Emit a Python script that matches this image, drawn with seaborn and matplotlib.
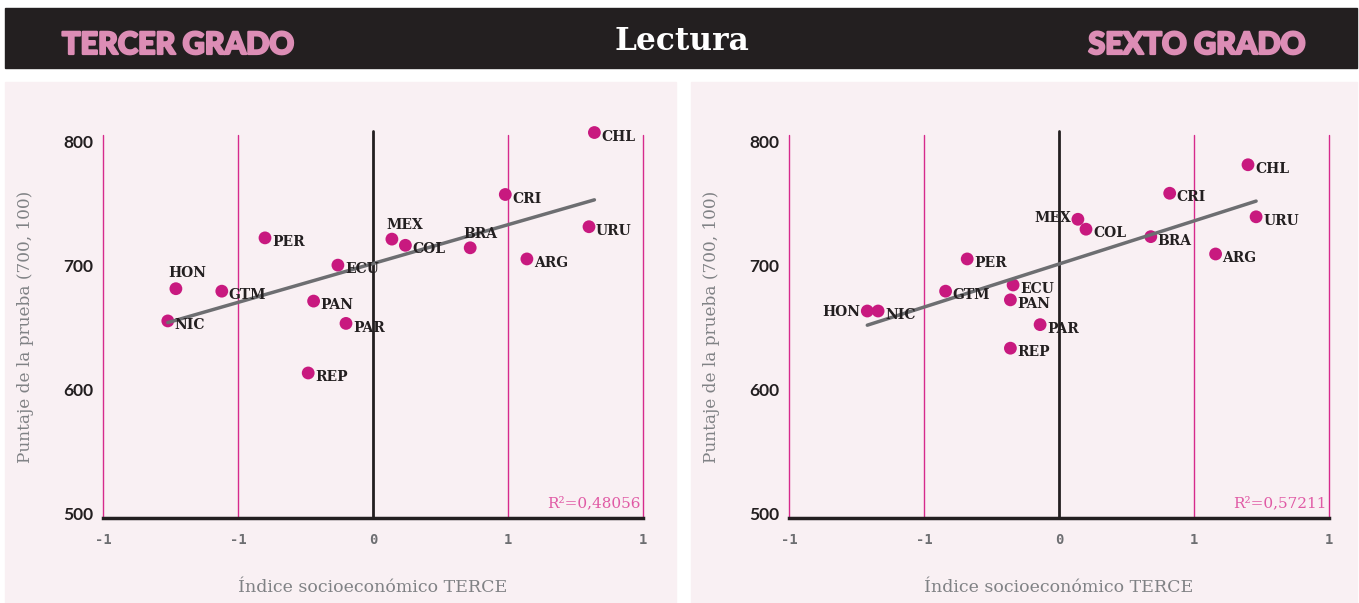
import pandas as pd
import numpy as np
import matplotlib
matplotlib.use("Agg")
import matplotlib.pyplot as plt
from matplotlib.patches import Rectangle
import matplotlib.patheffects as pe
import seaborn as sns

# data
countries = ["CHL", "CRI", "URU", "MEX", "COL", "BRA", "ARG", "PER",
             "ECU", "HON", "GTM", "PAN", "NIC", "PAR", "REP"]
tercer_ise = [0.82, 0.49, 0.80, 0.07, 0.12, 0.36, 0.57, -0.40,
              -0.13, -0.73, -0.56, -0.22, -0.76, -0.10, -0.24]
tercer_score = [807, 757, 731, 721, 716, 714, 705, 722,
                700, 681, 679, 671, 655, 653, 613]
sexto_ise = [0.70, 0.41, 0.73, 0.07, 0.10, 0.34, 0.58, -0.34,
             -0.17, -0.71, -0.42, -0.18, -0.67, -0.07, -0.18]
sexto_score = [781, 758, 739, 737, 729, 723, 709, 705,
               684, 663, 679, 672, 663, 652, 633]
x_ticks = [-1, -0.5, 0, 0.5, 1]
x_tick_labels = ["-1", "-1", "0", "1", "1"]
y_ticks = [500, 600, 700, 800]
r2_tercer = "0,48056"
r2_sexto = "0,57211"

DARK = "#231f20"
PINK = "#dc8db5"
DOT = "#c8197f"
VLINE = "#d62a8c"
GRAY = "#6d6e71"
PANEL = "#f9f0f3"

# label placement: (dx, dy) in points, ha
default_off = ((5, -3), "left")
off_tercer = {"HON": ((8, 11), "center"), "MEX": ((9, 10), "center"),
              "BRA": ((7, 10), "center")}
off_sexto = {"HON": ((-5, -1), "right"), "MEX": ((-5, 1), "right")}

sns.set_theme(style="white")
plt.rcParams["font.family"] = ["DejaVu Sans"]

fig = plt.figure(figsize=(13.59, 6.03), dpi=100)
W, H = 1359, 603

def px_rect(x0, y0, x1, y1, color):
    fig.patches.append(Rectangle((x0 / W, 1 - y1 / H), (x1 - x0) / W, (y1 - y0) / H,
                                 transform=fig.transFigure, color=color, zorder=-5))

px_rect(5, 8, 1357, 68, DARK)
px_rect(5, 82, 676, 603, PANEL)
px_rect(691, 82, 1357, 603, PANEL)

heavy = [pe.withStroke(linewidth=1.6, foreground=PINK)]
fig.text(62 / W, 1 - 45 / H, "TERCER GRADO", color=PINK, fontsize=22,
         family="Lato", fontweight="black", ha="left", va="center",
         path_effects=heavy)
fig.text(1305 / W, 1 - 45 / H, "SEXTO GRADO", color=PINK, fontsize=22,
         family="Lato", fontweight="black", ha="right", va="center",
         path_effects=heavy)
fig.text(682 / W, 1 - 42 / H, "Lectura", color="white", fontsize=22.5,
         family="DejaVu Serif", fontweight="bold", ha="center", va="center")


def draw_panel(left_px, ise, score, offsets, r2):
    ax = fig.add_axes([left_px / W, (603 - 518) / H, 540 / W, 383 / H])
    ax.set_facecolor("none")
    df = pd.DataFrame({"pais": countries, "ise": ise, "score": score})
    ax.set_xlim(-1, 1)
    ax.set_ylim(496, 805)
    for xv in [-1, -0.5, 0.5, 1]:
        ax.axvline(xv, color=VLINE, lw=1, zorder=1, clip_on=False)
    ax.axvline(0, color=DARK, lw=2, ymax=1.01, zorder=1, clip_on=False)
    sns.scatterplot(data=df, x="ise", y="score", ax=ax, color=DOT, s=85,
                    edgecolor="none", zorder=3, clip_on=False, legend=False)
    sns.regplot(data=df, x="ise", y="score", ax=ax, scatter=False, ci=None,
                color=GRAY, line_kws={"lw": 2.5, "zorder": 4})
    for _, row in df.iterrows():
        (dx, dy), ha = offsets.get(row["pais"], default_off)
        ax.annotate(row["pais"], (row["ise"], row["score"]), xytext=(dx, dy),
                    textcoords="offset points", ha=ha, va="center",
                    fontsize=10, family="DejaVu Serif", fontweight="bold",
                    color=DARK, zorder=5, annotation_clip=False)
    for s in ["top", "right", "left"]:
        ax.spines[s].set_visible(False)
    ax.spines["bottom"].set_color(DARK)
    ax.spines["bottom"].set_linewidth(2.5)
    ax.set_xticks(x_ticks)
    ax.set_xticklabels(x_tick_labels, family="DejaVu Sans Mono",
                       fontweight="bold", fontsize=10, color=GRAY)
    ax.set_yticks(y_ticks)
    ax.set_yticklabels([str(v) for v in y_ticks], family="Lato",
                       fontweight="bold", fontsize=12.5, color=DARK)
    ax.tick_params(axis="x", length=0, pad=11)
    ax.tick_params(axis="y", length=0, pad=7)
    ax.grid(False)
    ax.set_xlabel("Índice socioeconómico TERCE", family="DejaVu Serif",
                  fontsize=12.5, color="#808285")
    ax.xaxis.set_label_coords(0.5, -0.158)
    ax.set_ylabel("Puntaje de la prueba (700, 100)", family="DejaVu Serif",
                  fontsize=12.2, color="#808285")
    ax.yaxis.set_label_coords(-0.128, 0.5)
    ax.text(0.995, 0.02, "R²=" + r2, transform=ax.transAxes, ha="right",
            va="bottom", fontsize=11, family="DejaVu Serif", color="#e05aa5")
    return ax


draw_panel(103, tercer_ise, tercer_score, off_tercer, r2_tercer)
draw_panel(789, sexto_ise, sexto_score, off_sexto, r2_sexto)

fig.savefig("out.png", dpi=100, facecolor="white")
